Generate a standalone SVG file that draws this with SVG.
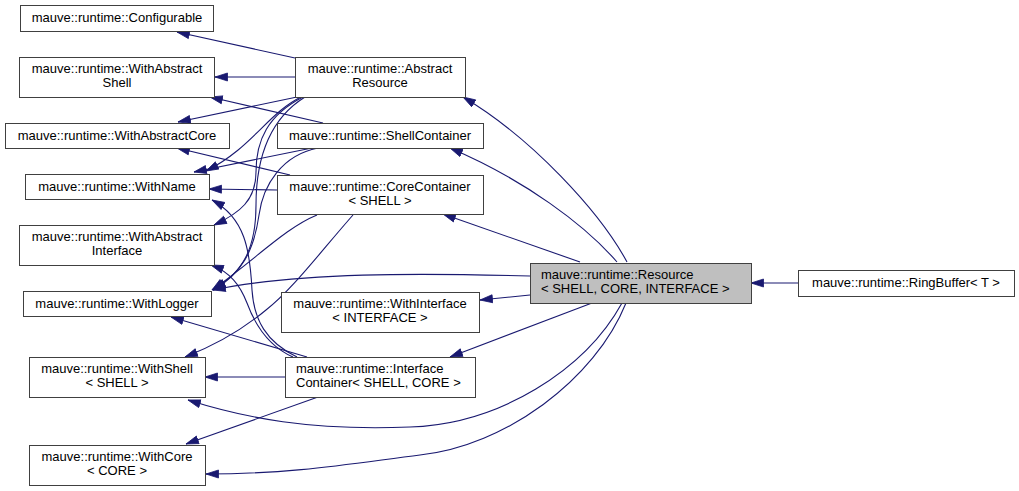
<svg xmlns="http://www.w3.org/2000/svg" width="1019" height="491" viewBox="0 0 1019 491">
<style>
.n rect{fill:#ffffff;stroke:#404040;stroke-width:1}
.n.cur rect{fill:#bfbfbf}
.n text{font-family:"Liberation Sans",Arial,Helvetica,sans-serif;font-size:13px;fill:#000000}
.c{text-anchor:middle}
.e path{fill:none;stroke:#191970;stroke-width:1.1;marker-end:url(#ah)}
</style>
<defs>
<marker id="ah" markerUnits="userSpaceOnUse" markerWidth="14" markerHeight="10" refX="13" refY="4.5" orient="auto" viewBox="0 0 14 9">
<path d="M0.5,0.5 L13,4.5 L0.5,8.5 z" fill="#191970" stroke="#191970" stroke-width="0.8"/>
</marker>
</defs>
<rect x="0" y="0" width="1019" height="491" fill="#ffffff"/>
<g id="edges" class="e">
<path d="M295,58 L177,32"/>
<path d="M295,77 L215,77"/>
<path d="M297,97 L178,122"/>
<path d="M301,97 C268,113 252,148 206,171"/>
<path d="M303,97 C268,115 256,140 256,172 C256,200 240,213 214,225"/>
<path d="M305,97 C268,120 256,160 256,205 C256,245 245,272 213,289"/>
<path d="M323,123 L210,97"/>
<path d="M312,148 L194,172"/>
<path d="M318,148 C282,155 263,185 259,215 C254,250 242,274 213,290"/>
<path d="M290,175 L177,148"/>
<path d="M277,190 L209,189"/>
<path d="M317,215 C285,228 255,260 212,290"/>
<path d="M353,215 C322,250 292,290 266,310 C242,330 216,345 185,357"/>
<path d="M297,357 C266,342 254,320 252,290 C250,250 245,218 212,200"/>
<path d="M293,357 C266,345 254,322 247,303 C240,285 230,272 211,265"/>
<path d="M307,357 L171,317"/>
<path d="M285,377 L205,377"/>
<path d="M318,397 L186,444"/>
<path d="M627,262 C600,212 532,138 463,97"/>
<path d="M617,262 C585,225 525,180 450,148"/>
<path d="M580,262 L443,214"/>
<path d="M530,276 C420,273 300,272 213,290"/>
<path d="M530,295 L480,300"/>
<path d="M592,303 L450,357"/>
<path d="M622,303 C585,370 500,424 410,427 C310,431 245,418 188,400"/>
<path d="M626,303 C595,380 505,446 420,455 C355,463 295,474 206,474"/>
<path d="M798,283 L751,283"/>
</g>
<g id="configurable" class="n"><rect x="20.5" y="5.5" width="193" height="26"/><text class="c" x="117" y="22">mauve::runtime::Configurable</text></g>
<g id="withabstractshell" class="n"><rect x="19.5" y="57.5" width="195" height="40"/><text class="c" x="117" y="73">mauve::runtime::WithAbstract</text><text class="c" x="117" y="87">Shell</text></g>
<g id="withabstractcore" class="n"><rect x="5.5" y="123.5" width="224" height="25"/><text class="c" x="117" y="140">mauve::runtime::WithAbstractCore</text></g>
<g id="withname" class="n"><rect x="25.5" y="174.5" width="184" height="25"/><text class="c" x="117" y="191">mauve::runtime::WithName</text></g>
<g id="withabstractinterface" class="n"><rect x="19.5" y="225.5" width="195" height="40"/><text class="c" x="117" y="241">mauve::runtime::WithAbstract</text><text class="c" x="117" y="255">Interface</text></g>
<g id="withlogger" class="n"><rect x="23.5" y="291.5" width="188" height="25"/><text class="c" x="117" y="308">mauve::runtime::WithLogger</text></g>
<g id="withshell" class="n"><rect x="29.5" y="357.5" width="176" height="40"/><text class="c" x="117" y="373">mauve::runtime::WithShell</text><text class="c" x="117" y="387">&lt; SHELL &gt;</text></g>
<g id="withcore" class="n"><rect x="29.5" y="445.5" width="176" height="40"/><text class="c" x="117" y="461">mauve::runtime::WithCore</text><text class="c" x="117" y="475">&lt; CORE &gt;</text></g>
<g id="abstractresource" class="n"><rect x="295.5" y="57.5" width="170" height="40"/><text class="c" x="380" y="73">mauve::runtime::Abstract</text><text class="c" x="380" y="87">Resource</text></g>
<g id="shellcontainer" class="n"><rect x="277.5" y="123.5" width="206" height="25"/><text class="c" x="380" y="140">mauve::runtime::ShellContainer</text></g>
<g id="corecontainer" class="n"><rect x="277.5" y="175.5" width="206" height="39"/><text class="c" x="380" y="191">mauve::runtime::CoreContainer</text><text class="c" x="380" y="205">&lt; SHELL &gt;</text></g>
<g id="withinterface" class="n"><rect x="281.5" y="292.5" width="198" height="40"/><text class="c" x="380" y="308">mauve::runtime::WithInterface</text><text class="c" x="380" y="322">&lt; INTERFACE &gt;</text></g>
<g id="interfacecontainer" class="n"><rect x="285.5" y="357.5" width="190" height="40"/><text x="296" y="373">mauve::runtime::Interface</text><text x="296" y="387">Container&lt; SHELL, CORE &gt;</text></g>
<g id="resource" class="n cur"><rect x="530.5" y="263.5" width="221" height="40"/><text x="541" y="279">mauve::runtime::Resource</text><text x="541" y="293">&lt; SHELL, CORE, INTERFACE &gt;</text></g>
<g id="ringbuffer" class="n"><rect x="798.5" y="270.5" width="216" height="26"/><text class="c" x="906" y="287">mauve::runtime::RingBuffer&lt; T &gt;</text></g>
</svg>
